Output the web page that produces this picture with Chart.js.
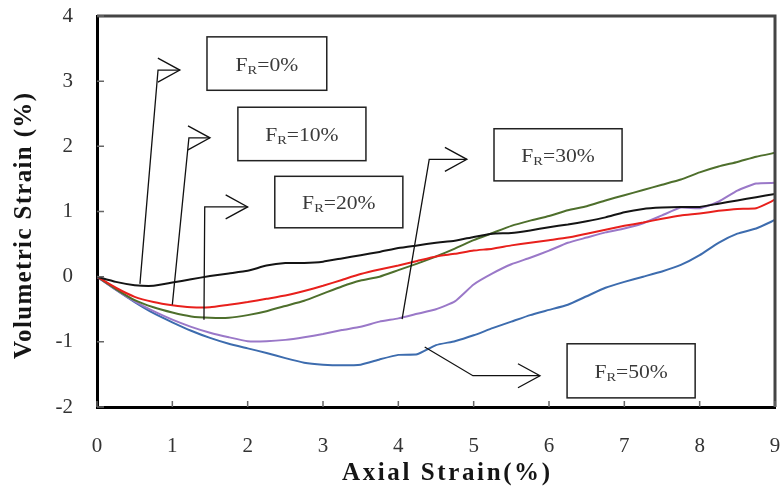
<!DOCTYPE html>
<html>
<head>
<meta charset="utf-8">
<script src="https://cdn.jsdelivr.net/npm/chart.js@4/dist/chart.umd.min.js"></script>
<style>
  html, body { margin: 0; padding: 0; background: #fff; }
  #wrap { width: 784px; height: 492px; }
</style>
</head>
<body>
<div id="wrap"><canvas id="c" width="784" height="492"></canvas></div>
<script>
// Axial strain (%) sample positions shared by every test
const axialStrain = [0, 0.25, 0.5, 0.75, 1, 1.25, 1.5, 1.75, 2, 2.25, 2.5, 2.75, 3, 3.25, 3.5, 3.75,
  4, 4.25, 4.5, 4.75, 5, 5.25, 5.5, 5.75, 6, 6.25, 6.5, 6.75, 7, 7.25, 7.5, 7.75, 8, 8.25, 8.5, 8.75, 9];

// Volumetric strain (%) for each rubber fraction F_R
const volFR0 = [0, -0.08, -0.13, -0.14, -0.09, -0.04, 0.01, 0.05, 0.09, 0.17, 0.21, 0.21, 0.23, 0.28, 0.33, 0.38,
  0.44, 0.48, 0.52, 0.55, 0.61, 0.66, 0.67, 0.71, 0.76, 0.80, 0.85, 0.91, 0.99, 1.04, 1.06, 1.07, 1.07, 1.12, 1.17, 1.22, 1.27];
const volFR10 = [0, -0.17, -0.31, -0.39, -0.44, -0.47, -0.47, -0.43, -0.39, -0.34, -0.29, -0.22, -0.14, -0.05, 0.04, 0.11,
  0.17, 0.24, 0.31, 0.35, 0.40, 0.43, 0.48, 0.52, 0.56, 0.60, 0.66, 0.72, 0.78, 0.83, 0.89, 0.94, 0.97, 1.01, 1.04, 1.05, 1.18];
const volFR20 = [0, -0.19, -0.36, -0.47, -0.55, -0.61, -0.63, -0.63, -0.59, -0.53, -0.45, -0.37, -0.26, -0.15, -0.06, 0.00,
  0.10, 0.20, 0.31, 0.43, 0.56, 0.67, 0.78, 0.86, 0.93, 1.02, 1.08, 1.17, 1.25, 1.33, 1.41, 1.49, 1.60, 1.69, 1.76, 1.84, 1.90];
const volFR30 = [0, -0.20, -0.38, -0.53, -0.66, -0.77, -0.86, -0.93, -0.99, -0.99, -0.97, -0.93, -0.88, -0.82, -0.77, -0.69,
  -0.64, -0.57, -0.50, -0.38, -0.12, 0.05, 0.19, 0.29, 0.40, 0.52, 0.60, 0.68, 0.74, 0.82, 0.94, 1.06, 1.05, 1.15, 1.32, 1.43, 1.44];
const volFR50 = [0, -0.20, -0.39, -0.56, -0.70, -0.83, -0.94, -1.03, -1.10, -1.17, -1.25, -1.32, -1.35, -1.36, -1.35, -1.27,
  -1.20, -1.19, -1.05, -0.99, -0.90, -0.79, -0.69, -0.59, -0.51, -0.43, -0.30, -0.17, -0.08, 0.00, 0.08, 0.18, 0.33, 0.52, 0.66, 0.74, 0.87];

const seriesNames = ['F_R=0%', 'F_R=10%', 'F_R=20%', 'F_R=30%', 'F_R=50%'];
const seriesValues = [volFR0, volFR10, volFR20, volFR30, volFR50];
const seriesColors = ['#141414', '#e8201c', '#4e6f2c', '#9a78c8', '#3d6cae'];

// Label boxes and their leader arrows, in axis units
const callouts = [
  { pct: '0%',  box: [1.46, 3.68, 3.05, 2.86], path: [[0.57, -0.11], [0.81, 3.17], [1.10, 3.17]] },
  { pct: '10%', box: [1.87, 2.60, 3.57, 1.78], path: [[1.00, -0.43], [1.22, 2.13], [1.50, 2.13]] },
  { pct: '20%', box: [2.36, 1.54, 4.06, 0.75], path: [[1.42, -0.66], [1.43, 1.07], [2.00, 1.07]] },
  { pct: '30%', box: [5.27, 2.27, 6.97, 1.47], path: [[4.05, -0.65], [4.41, 1.80], [4.91, 1.80]] },
  { pct: '50%', box: [6.24, -1.03, 7.94, -1.86], path: [[4.35, -1.08], [4.99, -1.52], [5.88, -1.52]] }
];

const xTitle = 'Axial Strain(%)';
const yTitle = 'Volumetric Strain (%)';

const SERIF = '"Liberation Serif", "Times New Roman", serif';

// draws text centred on (cx, cy), spread to a given width
function spreadText(ctx, text, cx, cy, width) {
  ctx.letterSpacing = '0px';
  const plain = ctx.measureText(text).width;
  const gap = Math.max(0, (width - plain) / (text.length - 1));
  ctx.letterSpacing = gap + 'px';
  ctx.textAlign = 'left';
  ctx.textBaseline = 'middle';
  ctx.fillText(text, cx - (plain + gap * (text.length - 1)) / 2, cy);
  ctx.letterSpacing = '0px';
}

const framePlugin = {
  id: 'frameAndCallouts',
  afterDatasetsDraw(chart) {
    const { ctx, chartArea: a, scales: { x, y } } = chart;
    ctx.save();
    // top and right frame edges
    ctx.strokeStyle = '#444';
    ctx.lineWidth = 3;
    ctx.beginPath();
    ctx.moveTo(a.left, a.top);
    ctx.lineTo(a.right, a.top);
    ctx.lineTo(a.right, a.bottom);
    ctx.stroke();
    // inward tick marks
    ctx.strokeStyle = '#666';
    ctx.lineWidth = 1.5;
    ctx.beginPath();
    x.ticks.forEach(t => {
      const px = x.getPixelForValue(t.value);
      ctx.moveTo(px, a.bottom);
      ctx.lineTo(px, a.bottom - 6);
    });
    y.ticks.forEach(t => {
      const py = y.getPixelForValue(t.value);
      ctx.moveTo(a.left, py);
      ctx.lineTo(a.left + 7, py);
    });
    ctx.stroke();

    // leader arrows
    ctx.strokeStyle = '#111';
    ctx.lineWidth = 1.3;
    callouts.forEach(c => {
      const pts = c.path.map(p => [x.getPixelForValue(p[0]), y.getPixelForValue(p[1])]);
      ctx.beginPath();
      ctx.moveTo(pts[0][0], pts[0][1]);
      for (let i = 1; i < pts.length; i++) ctx.lineTo(pts[i][0], pts[i][1]);
      ctx.stroke();
      const tip = pts[pts.length - 1];
      ctx.beginPath();
      ctx.moveTo(tip[0] - 22, tip[1] - 12);
      ctx.lineTo(tip[0], tip[1]);
      ctx.lineTo(tip[0] - 22, tip[1] + 12);
      ctx.stroke();
    });

    // label boxes
    callouts.forEach(c => {
      const x0 = x.getPixelForValue(c.box[0]), y0 = y.getPixelForValue(c.box[1]);
      const x1 = x.getPixelForValue(c.box[2]), y1 = y.getPixelForValue(c.box[3]);
      ctx.fillStyle = '#fff';
      ctx.fillRect(x0, y0, x1 - x0, y1 - y0);
      ctx.strokeStyle = '#222';
      ctx.lineWidth = 1.5;
      ctx.strokeRect(x0, y0, x1 - x0, y1 - y0);
      const big = '18px ' + SERIF, small = '12px ' + SERIF;
      ctx.font = big; const wF = ctx.measureText('F').width;
      const rest = '=' + c.pct; const wRest = ctx.measureText(rest).width;
      ctx.font = small; const wR = ctx.measureText('R').width;
      const total = wF + wR + wRest;
      const stretch = 1.2;
      ctx.save();
      ctx.translate((x0 + x1) / 2, (y0 + y1) / 2 + 7);
      ctx.scale(stretch, 1);
      let tx = -total / 2;
      ctx.fillStyle = '#3a3a3a';
      ctx.textBaseline = 'alphabetic';
      ctx.textAlign = 'left';
      ctx.font = big; ctx.fillText('F', tx, 0); tx += wF;
      ctx.font = small; ctx.fillText('R', tx, 3); tx += wR;
      ctx.font = big; ctx.fillText(rest, tx, 0);
      ctx.restore();
    });

    // axis titles
    ctx.fillStyle = '#151515';
    ctx.font = 'bold 25px ' + SERIF;
    spreadText(ctx, xTitle, (a.left + a.right) / 2 + 10, 474, 208);
    ctx.save();
    ctx.translate(25, 226);
    ctx.rotate(-Math.PI / 2);
    ctx.font = 'bold 25px ' + SERIF;
    spreadText(ctx, yTitle, 0, 0, 266);
    ctx.restore();
    ctx.restore();
  }
};

const noPad = s => { s.paddingTop = 0; s.paddingBottom = 0; s.paddingLeft = 0; s.paddingRight = 0; };

new Chart(document.getElementById('c'), {
  type: 'line',
  data: {
    datasets: seriesValues.map((vals, i) => ({
      label: seriesNames[i],
      data: axialStrain.map((s, k) => ({ x: s, y: vals[k] })),
      borderColor: seriesColors[i],
      borderWidth: 2,
      pointRadius: 0,
      tension: 0.15,
      fill: false
    }))
  },
  options: {
    responsive: false,
    animation: false,
    layout: { autoPadding: false, padding: { top: 16, right: 9, left: 0, bottom: 0 } },
    plugins: { legend: { display: false }, tooltip: { enabled: false } },
    scales: {
      x: {
        type: 'linear', min: 0, max: 9,
        afterFit: s => { s.height = 85; noPad(s); },
        ticks: { stepSize: 1, padding: 27, color: '#333', font: { family: SERIF, size: 21 } },
        grid: { display: false, drawTicks: false },
        border: { display: true, color: '#000', width: 3 },
        title: { display: false }
      },
      y: {
        type: 'linear', min: -2, max: 4,
        afterFit: s => { s.width = 97; noPad(s); },
        ticks: { stepSize: 1, padding: 24, color: '#333', font: { family: SERIF, size: 21 } },
        grid: { display: false, drawTicks: false },
        border: { display: true, color: '#000', width: 3 },
        title: { display: false }
      }
    }
  },
  plugins: [framePlugin]
});
</script>
</body>
</html>
